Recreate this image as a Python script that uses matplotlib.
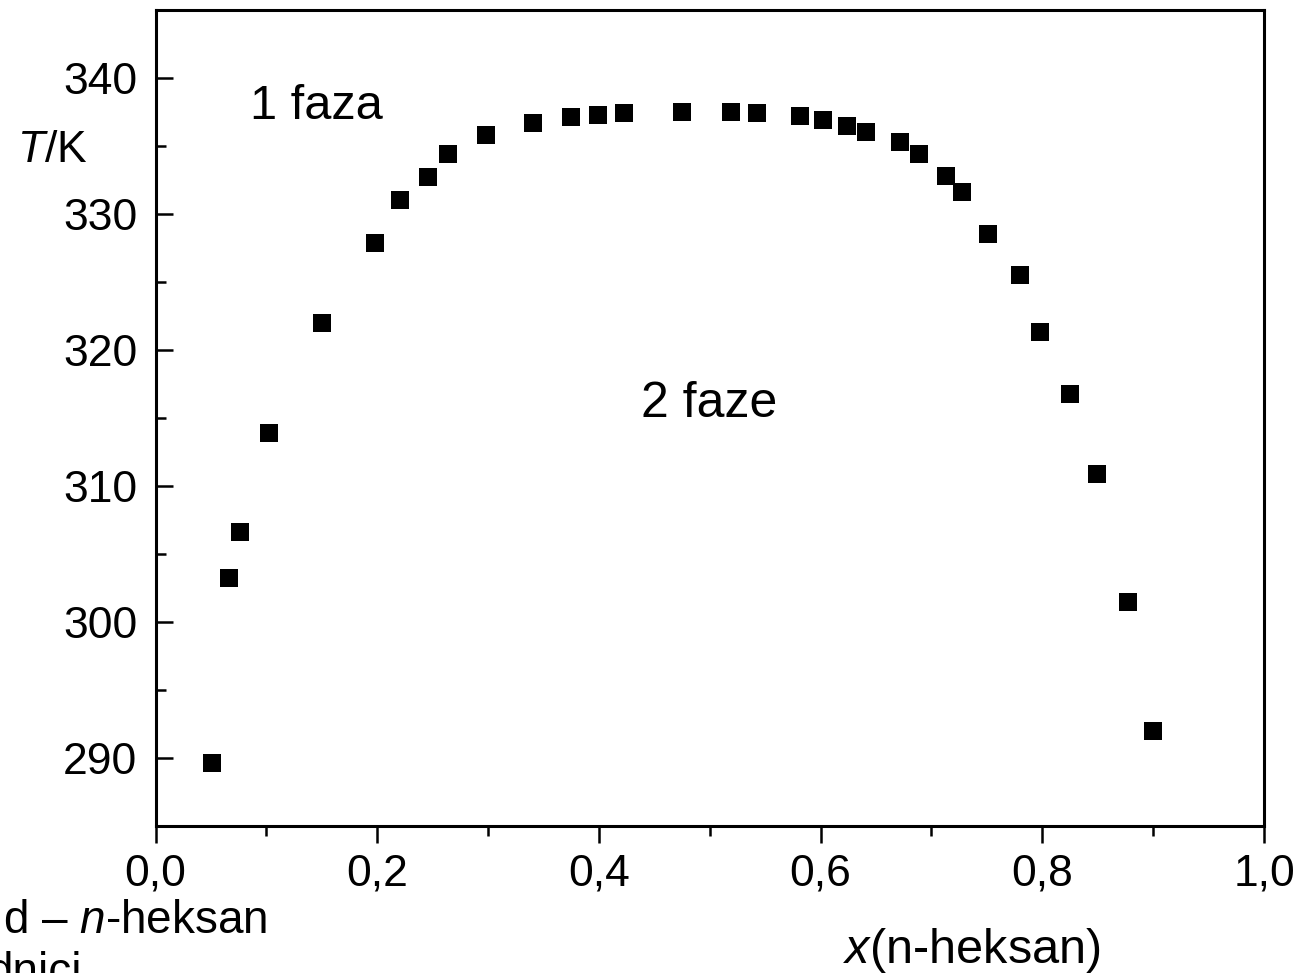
import matplotlib
matplotlib.use("Agg")
import matplotlib.pyplot as plt
from matplotlib.ticker import MultipleLocator, FuncFormatter

# mole fraction of n-hexane and temperature of the phase boundary
x_heksan = [0.051, 0.066, 0.076, 0.102, 0.150, 0.198, 0.221, 0.246, 0.264,
            0.298, 0.341, 0.375, 0.399, 0.423, 0.475, 0.519, 0.543, 0.581,
            0.602, 0.624, 0.641, 0.672, 0.689, 0.713, 0.728, 0.751, 0.780,
            0.798, 0.825, 0.849, 0.877, 0.900]
T_K = [289.6, 303.2, 306.6, 313.9, 322.0, 327.9, 331.0, 332.7, 334.4,
       335.8, 336.7, 337.1, 337.3, 337.4, 337.5, 337.5, 337.4, 337.2,
       336.9, 336.5, 336.0, 335.3, 334.4, 332.8, 331.6, 328.5, 325.5,
       321.3, 316.8, 310.9, 301.5, 292.0]

plt.rcParams['font.family'] = ['Liberation Sans', 'DejaVu Sans']
plt.rcParams['mathtext.fontset'] = 'custom'
plt.rcParams['mathtext.rm'] = 'Liberation Sans'
plt.rcParams['mathtext.it'] = 'Liberation Sans:italic'

W, H = 1302, 973
fig = plt.figure(figsize=(W / 100, H / 100), dpi=100)
ax = fig.add_axes([155.5 / W, 1 - 826 / H, (1264 - 155.5) / W, (826 - 10) / H])

ax.plot(x_heksan, T_K, linestyle='none', marker='s', markersize=12.5,
        color='black', markeredgewidth=0)

ax.set_xlim(0, 1.0)
ax.set_ylim(285, 345)
ax.xaxis.set_major_locator(MultipleLocator(0.2))
ax.xaxis.set_minor_locator(MultipleLocator(0.1))
ax.yaxis.set_major_locator(MultipleLocator(10))
ax.yaxis.set_minor_locator(MultipleLocator(5))
ax.xaxis.set_major_formatter(FuncFormatter(lambda v, p: f"{v:.1f}".replace('.', ',')))
ax.yaxis.set_major_formatter(FuncFormatter(lambda v, p: f"{v:.0f}"))

for s in ax.spines.values():
    s.set_linewidth(2.2)
# bottom ticks point out, left ticks point in
ax.tick_params(axis='x', which='major', direction='out', length=12, width=1.8,
               labelsize=32, pad=8)
ax.tick_params(axis='x', which='minor', direction='out', length=7, width=1.8)
ax.tick_params(axis='y', which='major', direction='in', length=12, width=1.8,
               labelsize=32, pad=13)
ax.tick_params(axis='y', which='minor', direction='in', length=7, width=1.8)

ax.text(0.085, 337.0, "1 faza", fontsize=35, ha='left', va='baseline')
ax.text(0.438, 315.1, "2 faze", fontsize=36, ha='left', va='baseline')

fig.text(17 / W, 1 - 162 / H, r"$\mathit{T}$/K", fontsize=32, ha='left', va='baseline')
fig.text(843 / W, 1 - 963 / H, r"$\mathit{x}$(n-heksan)", fontsize=35,
         ha='left', va='baseline')
fig.text(267 / W, 1 - 933 / H, r"d – $\mathit{n}$-heksan", fontsize=33,
         ha='right', va='baseline')
fig.text(82 / W, 1 - 985 / H, "dnici", fontsize=33, ha='right', va='baseline')

fig.savefig("out.png", dpi=100)
